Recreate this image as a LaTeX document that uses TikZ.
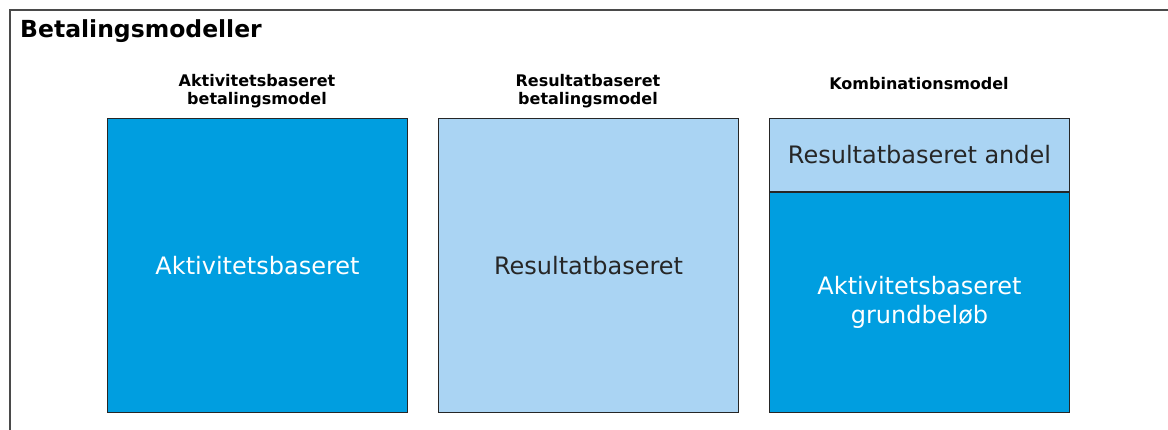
\documentclass[tikz,border=0pt]{standalone}
\usepackage{fontspec}
\setmainfont{DejaVu Sans}
\usetikzlibrary{positioning}

\definecolor{darkblue}{HTML}{009EE0}
\definecolor{lightblue}{HTML}{AAD4F3}
\definecolor{frameline}{HTML}{4A4A4A}

\tikzset{
  modelbox/.style={draw=black!85, line width=1pt, anchor=north west, minimum width=300pt, inner sep=0pt, align=center, font=\fontsize{24}{29}\selectfont},
  headline/.style={font=\bfseries\fontsize{16}{18}\selectfont, align=center, inner sep=0pt}
}

\begin{document}
\begin{tikzpicture}[x=1pt, y=-1pt]
                \useasboundingbox (0,0) rectangle (1168,430);
                \clip (0,0) rectangle (1168,430);

                % Frame
                \draw[frameline, line width=1.5pt] (10,10) rectangle (1190,450);
                \node[anchor=west, font=\bfseries\fontsize{23.5}{26}\selectfont, inner sep=0pt] (title) at (20,31) {Betalingsmodeller};

                % Activity based
                \node[modelbox, fill=darkblue, text=white, minimum height=294pt] (activity) at (107,118) {Aktivitetsbaseret};
                \node[headline] (activityhead) at (257,91) {Aktivitetsbaseret\\betalingsmodel};

                % Result based
                \node[modelbox, fill=lightblue, text=black!85, minimum height=294pt] (result) at (438,118) {Resultatbaseret};
                \node[headline] (resulthead) at (588,91) {Resultatbaseret\\betalingsmodel};

                % Combination
                \node[modelbox, fill=lightblue, text=black!85, minimum height=73pt] (share) at (769,118) {Resultatbaseret andel};
                \node[modelbox, fill=darkblue, text=white, minimum height=220pt, anchor=north] (base) at (share.south) {Aktivitetsbaseret\\grundbeløb};
                \node[headline] (combohead) at (919,84) {Kombinationsmodel};
            \end{tikzpicture}
\end{document}
